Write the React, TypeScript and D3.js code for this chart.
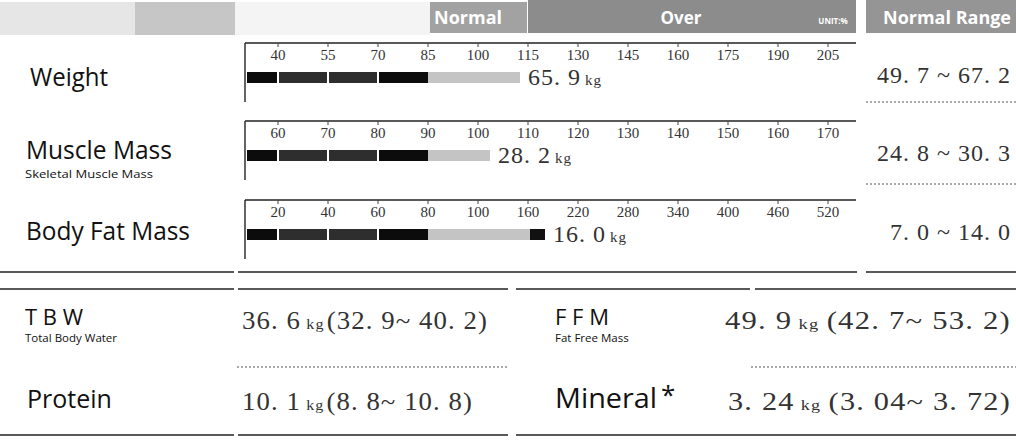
import React from 'react';
import * as d3 from 'd3';

// gauge rows
const rowNames = ['Weight', 'Muscle Mass', 'Body Fat Mass'];
const rowSubNames = ['', 'Skeletal Muscle Mass', ''];
const weightTicks = [40, 55, 70, 85, 100, 115, 130, 145, 160, 175, 190, 205];
const muscleTicks = [60, 70, 80, 90, 100, 110, 120, 130, 140, 150, 160, 170];
const fatTicks = [20, 40, 60, 80, 100, 160, 220, 280, 340, 400, 460, 520];
const tickSets = [weightTicks, muscleTicks, fatTicks];
const barPercents = [112.6, 102.4, 180.4];
const darkTailFrom = [null, null, 162.4];
const barValues = ['65. 9', '28. 2', '16. 0'];
const normalRanges = ['49. 7 ~ 67. 2', '24. 8 ~ 30. 3', '7. 0 ~ 14. 0'];

// lower table
const bottomLabels = ['T B W', 'Protein', 'F F M', 'Mineral'];
const bottomSubs = ['Total Body Water', '', 'Fat Free Mass', ''];
const bottomValues = ['36. 6', '10. 1', '49. 9', '3. 24'];
const bottomRanges = ['(32. 9~ 40. 2)', '(8. 8~ 10. 8)', '(42. 7~ 53. 2)', '(3. 04~ 3. 72)'];

const W = 1016;
const H = 441;
const sans = '"Open Sans", sans-serif';
const serif = '"Liberation Serif", serif';
const rowTop = [43, 121, 200];
const axisX0 = 245;
const axisX1 = 856;
const labelWidths = [78, 146, 164];
const labelBase = [86, 159, 240];

function Gauge({ i }: { i: number }) {
  const ticks = tickSets[i];
  const pos = d3.scalePoint<number>().domain(ticks).range([278, 828]);
  const x = d3.scaleLinear().domain(ticks).range(ticks.map((t) => pos(t) as number));
  const T = rowTop[i];
  const barY = T + 29;
  const barH = 11;
  const segEdges = [axisX0 + 2, ...ticks.slice(0, 4).map((t) => x(t))];
  const end = x(barPercents[i]);
  const tail = darkTailFrom[i];
  return (
    <g>
      <line x1={axisX0} x2={axisX1} y1={T} y2={T} stroke="#222" strokeWidth={1.4} />
      <line x1={axisX0} x2={axisX0} y1={T} y2={T + 59} stroke="#222" strokeWidth={1.4} />
      {ticks.map((t) => (
        <g key={t} transform={`translate(${x(t)},${T})`}>
          <line y1={0} y2={4} stroke="#444" />
          <text y={17} textAnchor="middle" fontFamily={serif} fontSize={15} fill="#333">
            {t}
          </text>
        </g>
      ))}
      {segEdges.slice(0, -1).map((a, k) => (
        <rect
          key={k}
          x={k === 0 ? a : a + 1}
          y={barY}
          width={segEdges[k + 1] - (k === 0 ? a : a + 1) - (k < 3 ? 1 : 0)}
          height={barH}
          fill={k === 1 || k === 2 ? '#2e2e2e' : '#0c0c0c'}
        />
      ))}
      <rect x={x(ticks[3])} y={barY} width={end - x(ticks[3])} height={barH} fill="#c4c4c4" />
      {tail !== null && (
        <rect x={x(tail)} y={barY} width={end - x(tail)} height={barH} fill="#111" />
      )}
      <text x={end + 8} y={T + 42} fontFamily={serif} fontSize={24} fill="#333" letterSpacing={1}>
        {barValues[i]}
        <tspan fontSize={15} dx={4}>kg</tspan>
      </text>
      <text x={1011} y={T + 40} textAnchor="end" fontFamily={serif} fontSize={24} fill="#333" letterSpacing={1}>
        {normalRanges[i]}
      </text>
      <text x={i === 0 ? 30 : 26} y={labelBase[i]} fontFamily={sans} fontSize={25} fill="#111"
        textLength={labelWidths[i]} lengthAdjust="spacingAndGlyphs">
        {rowNames[i]}
      </text>
      {rowSubNames[i] && (
        <text x={25} y={T + 57} fontFamily={sans} fontSize={11} fill="#111"
          textLength={128} lengthAdjust="spacingAndGlyphs">
          {rowSubNames[i]}
        </text>
      )}
    </g>
  );
}

function Header() {
  return (
    <g>
      <rect x={0} y={2} width={135} height={33} fill="#e6e6e6" />
      <rect x={135} y={2} width={100} height={33} fill="#c6c6c6" />
      <rect x={235} y={2} width={195} height={33} fill="#f4f4f4" />
      <rect x={430} y={2} width={97} height={31} fill="#a2a2a2" />
      <rect x={528} y={0} width={328} height={33} fill="#8c8c8c" />
      <rect x={866} y={0} width={150} height={33} fill="#959595" />
      <text x={468} y={24} textAnchor="middle" fontFamily={sans} fontWeight={700} fontSize={18} fill="#fff">
        Normal
      </text>
      <text x={681} y={24} textAnchor="middle" fontFamily={sans} fontWeight={700} fontSize={17} fill="#fff">
        Over
      </text>
      <text x={833} y={24} textAnchor="middle" fontFamily={sans} fontWeight={700} fontSize={8} fill="#fff">
        UNIT:%
      </text>
      <text x={947} y={24} textAnchor="middle" fontFamily={sans} fontWeight={700} fontSize={18} fill="#fff"
        textLength={128} lengthAdjust="spacingAndGlyphs">
        Normal Range
      </text>
    </g>
  );
}

function Bottom() {
  const labelX = [25, 27, 555, 555];
  const labelY = [327, 408, 327, 408];
  const labelSize = [22, 25, 22, 28];
  const valueX = [242, 242, 725, 728];
  const valueLen = [246, 231, 286, 283];
  return (
    <g>
      {/* double rule */}
      {[[0, 234], [238, 857], [866, 1016]].map(([a, b], k) => (
        <line key={'a' + k} x1={a} x2={b} y1={272} y2={272} stroke="#222" strokeWidth={1.5} />
      ))}
      {[[0, 234], [238, 508], [516, 750], [755, 1016]].map(([a, b], k) => (
        <line key={'b' + k} x1={a} x2={b} y1={289} y2={289} stroke="#222" strokeWidth={1.5} />
      ))}
      {[[0, 234], [238, 508], [516, 1016]].map(([a, b], k) => (
        <line key={'c' + k} x1={a} x2={b} y1={435} y2={435} stroke="#222" strokeWidth={1.5} />
      ))}
      <line x1={237} x2={508} y1={367} y2={367} stroke="#555" strokeDasharray="2,2" />
      <line x1={751} x2={1016} y1={367} y2={367} stroke="#555" strokeDasharray="2,2" />
      {bottomLabels.map((l, k) => (
        <g key={l}>
          <text x={labelX[k]} y={labelY[k] - (bottomSubs[k] ? 2 : 0)} fontFamily={sans} fontSize={labelSize[k]} fill="#111"
            textLength={l === 'Mineral' ? 102 : undefined} lengthAdjust="spacingAndGlyphs">
            {l}
          </text>
          {bottomSubs[k] && (
            <text x={labelX[k]} y={labelY[k] + 15} fontFamily={sans} fontSize={11.5} fill="#111">
              {bottomSubs[k]}
            </text>
          )}
          {l === 'Mineral' && (
            <text x={661} y={404} fontFamily={sans} fontSize={26} fill="#111">*</text>
          )}
          <text
            x={valueX[k]}
            y={labelY[k] + 2}
            fontFamily={serif}
            fontSize={25}
            fill="#333"
            letterSpacing={1}
            textLength={valueLen[k]}
            lengthAdjust="spacingAndGlyphs"
          >
            {bottomValues[k]}
            <tspan fontSize={15} dx={5}>kg</tspan>
            <tspan dx={k < 2 ? 2 : 6}>{bottomRanges[k]}</tspan>
          </text>
        </g>
      ))}
    </g>
  );
}

export default function App() {
  return (
    <svg width={W} height={H} style={{ position: 'absolute', left: 0, top: 0, background: '#fff' }}>
      <Header />
      {rowNames.map((_, i) => (
        <Gauge key={i} i={i} />
      ))}
      <line x1={866} x2={1016} y1={102} y2={102} stroke="#555" strokeDasharray="2,2" />
      <line x1={866} x2={1016} y1={184} y2={184} stroke="#555" strokeDasharray="2,2" />
      <Bottom />
    </svg>
  );
}
